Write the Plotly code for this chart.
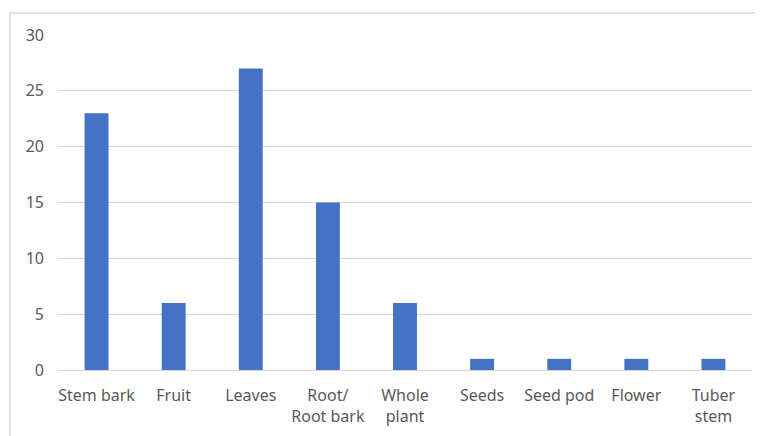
import plotly.graph_objects as go

categories = ["Stem bark", "Fruit", "Leaves", "Root/<br>Root bark", "Whole<br>plant",
              "Seeds", "Seed pod", "Flower", "Tuber<br>stem"]
values = [23, 6, 27, 15, 6, 1, 1, 1, 1]
y_ticks = [0, 5, 10, 15, 20, 25, 30]

W, H = 763, 436
OFF = 8  # page body offset
ml, mr, mt, mb = 58 - OFF, 11 + OFF, 35 - OFF, 66 + OFF
pw, ph = W - ml - mr, H - mt - mb

fig = go.Figure(go.Bar(x=categories, y=values, marker_color="#4472C4",
                       marker_line_width=0, width=0.31))

def px2paper_x(px):
    return (px - OFF - ml) / pw

def px2paper_y(py):
    return (H - mb - (py - OFF)) / ph

fig.add_shape(type="rect", xref="paper", yref="paper",
              x0=px2paper_x(10), x1=px2paper_x(790),
              y0=px2paper_y(460), y1=px2paper_y(13),
              line=dict(color="#D9D9D9", width=1.5), layer="below")

fig.update_layout(
    width=W, height=H,
    margin=dict(l=ml, r=mr, t=mt, b=mb),
    paper_bgcolor="white", plot_bgcolor="white",
    font=dict(family="Noto Sans, Open Sans, sans-serif", size=16, color="#595959"),
    showlegend=False,
    bargap=0.69,
    xaxis=dict(showgrid=False, showline=True, linecolor="#D9D9D9", linewidth=1,
               ticks="", ticklabelstandoff=11, tickfont=dict(size=16, color="#595959")),
    yaxis=dict(range=[0, 30], tickvals=y_ticks, showgrid=True, gridcolor="#D9D9D9",
               gridwidth=1, zeroline=False, showline=False, ticks="",
               ticklabelstandoff=13, tickfont=dict(size=16, color="#595959")),
)

fig.write_html("out.html")
